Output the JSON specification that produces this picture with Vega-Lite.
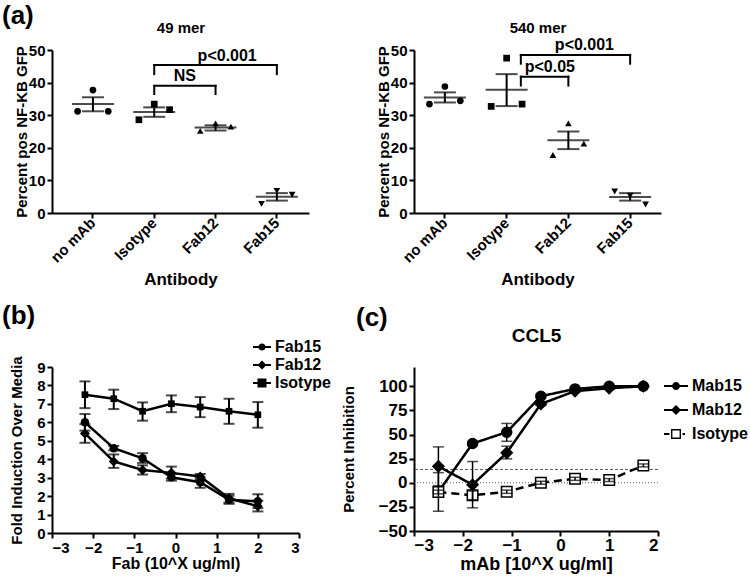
{
"$schema": "https://vega.github.io/schema/vega-lite/v6.json",
"padding": {"left": 2, "top": 3, "right": 2, "bottom": 2},
"config": {
  "font": "Liberation Sans",
  "view": {"stroke": null},
  "axis": {"domainColor": "black", "domainWidth": 2, "tickColor": "black", "tickWidth": 2, "tickSize": 5, "labelColor": "black", "labelFontWeight": "bold", "labelFontSize": 15, "labelPadding": 2, "labelOverlap": false, "titleColor": "black", "titleFontWeight": "bold", "titleFontSize": 15, "titlePadding": 2, "grid": false},
  "title": {"color": "black", "fontWeight": "bold", "frame": "group"},
  "legend": {"labelColor": "black", "labelFontWeight": "bold", "labelFontSize": 16, "padding": 0, "rowPadding": 0, "labelOffset": 3}
},
"datasets": {
  "a49": [
    {"antibody": "no mAb", "rep": 1, "value": 31.2}, {"antibody": "no mAb", "rep": 2, "value": 37.7}, {"antibody": "no mAb", "rep": 3, "value": 31.2},
    {"antibody": "Isotype", "rep": 1, "value": 28.6}, {"antibody": "Isotype", "rep": 2, "value": 33.4}, {"antibody": "Isotype", "rep": 3, "value": 31.7},
    {"antibody": "Fab12", "rep": 1, "value": 25.2}, {"antibody": "Fab12", "rep": 2, "value": 27.5}, {"antibody": "Fab12", "rep": 3, "value": 26.5},
    {"antibody": "Fab15", "rep": 1, "value": 2.8}, {"antibody": "Fab15", "rep": 2, "value": 6.8}, {"antibody": "Fab15", "rep": 3, "value": 5.6}
  ],
  "a49s": [
    {"antibody": "no mAb", "mean": 33.4, "lo": 31.2, "hi": 35.5},
    {"antibody": "Isotype", "mean": 31.0, "lo": 29.5, "hi": 32.4},
    {"antibody": "Fab12", "mean": 26.2, "lo": 25.3, "hi": 26.9},
    {"antibody": "Fab15", "mean": 5.0, "lo": 3.8, "hi": 6.1}
  ],
  "a540": [
    {"antibody": "no mAb", "rep": 1, "value": 33.4}, {"antibody": "no mAb", "rep": 2, "value": 38.8}, {"antibody": "no mAb", "rep": 3, "value": 34.4},
    {"antibody": "Isotype", "rep": 1, "value": 32.7}, {"antibody": "Isotype", "rep": 2, "value": 47.5}, {"antibody": "Isotype", "rep": 3, "value": 33.4},
    {"antibody": "Fab12", "rep": 1, "value": 17.8}, {"antibody": "Fab12", "rep": 2, "value": 27.5}, {"antibody": "Fab12", "rep": 3, "value": 21.3},
    {"antibody": "Fab15", "rep": 1, "value": 6.6}, {"antibody": "Fab15", "rep": 2, "value": 5.3}, {"antibody": "Fab15", "rep": 3, "value": 2.6}
  ],
  "a540s": [
    {"antibody": "no mAb", "mean": 35.4, "lo": 33.9, "hi": 37.0},
    {"antibody": "Isotype", "mean": 37.8, "lo": 32.8, "hi": 42.6},
    {"antibody": "Fab12", "mean": 22.3, "lo": 19.6, "hi": 25.0},
    {"antibody": "Fab15", "mean": 4.9, "lo": 3.8, "hi": 6.1}
  ],
  "fab": [
    {"series": "Isotype", "dose": -2.2, "mean": 7.5, "lo": 6.77, "hi": 8.22},
    {"series": "Isotype", "dose": -1.5, "mean": 7.28, "lo": 6.72, "hi": 7.77},
    {"series": "Isotype", "dose": -0.8, "mean": 6.6, "lo": 6.09, "hi": 7.08},
    {"series": "Isotype", "dose": -0.1, "mean": 7.01, "lo": 6.55, "hi": 7.46},
    {"series": "Isotype", "dose": 0.6, "mean": 6.83, "lo": 6.28, "hi": 7.37},
    {"series": "Isotype", "dose": 1.3, "mean": 6.6, "lo": 5.92, "hi": 7.28},
    {"series": "Isotype", "dose": 2.0, "mean": 6.41, "lo": 5.71, "hi": 7.1},
    {"series": "Fab15", "dose": -2.2, "mean": 6.0, "lo": 5.55, "hi": 6.45},
    {"series": "Fab15", "dose": -1.5, "mean": 4.6, "lo": 4.48, "hi": 4.72},
    {"series": "Fab15", "dose": -0.8, "mean": 4.05, "lo": 3.8, "hi": 4.33},
    {"series": "Fab15", "dose": -0.1, "mean": 3.02, "lo": 2.84, "hi": 3.2},
    {"series": "Fab15", "dose": 0.6, "mean": 2.75, "lo": 2.45, "hi": 3.0},
    {"series": "Fab15", "dose": 1.3, "mean": 1.8, "lo": 1.58, "hi": 2.02},
    {"series": "Fab15", "dose": 2.0, "mean": 1.72, "lo": 1.35, "hi": 2.1},
    {"series": "Fab12", "dose": -2.2, "mean": 5.4, "lo": 4.89, "hi": 5.9},
    {"series": "Fab12", "dose": -1.5, "mean": 3.88, "lo": 3.53, "hi": 4.26},
    {"series": "Fab12", "dose": -0.8, "mean": 3.42, "lo": 3.17, "hi": 3.67},
    {"series": "Fab12", "dose": -0.1, "mean": 3.26, "lo": 2.95, "hi": 3.6},
    {"series": "Fab12", "dose": 0.6, "mean": 3.06, "lo": 2.9, "hi": 3.2},
    {"series": "Fab12", "dose": 1.3, "mean": 1.88, "lo": 1.65, "hi": 2.12},
    {"series": "Fab12", "dose": 2.0, "mean": 1.45, "lo": 1.17, "hi": 1.75}
  ],
  "ccl5": [
    {"series": "Mab15", "dose": -2.5, "mean": -9.5, "lo": -29.5, "hi": 10.5},
    {"series": "Mab15", "dose": -1.8, "mean": 40.7, "lo": 39, "hi": 42.5},
    {"series": "Mab15", "dose": -1.1, "mean": 52.4, "lo": 43, "hi": 61.5},
    {"series": "Mab15", "dose": -0.4, "mean": 89.7, "lo": 88, "hi": 91.5},
    {"series": "Mab15", "dose": 0.3, "mean": 97.3, "lo": 96, "hi": 98.5},
    {"series": "Mab15", "dose": 1.0, "mean": 100, "lo": 99, "hi": 101},
    {"series": "Mab15", "dose": 1.7, "mean": 100, "lo": 99, "hi": 101},
    {"series": "Mab12", "dose": -2.5, "mean": 17, "lo": -3, "hi": 37.2},
    {"series": "Mab12", "dose": -1.8, "mean": -2, "lo": -26, "hi": 22},
    {"series": "Mab12", "dose": -1.1, "mean": 31, "lo": 24.8, "hi": 37.9},
    {"series": "Mab12", "dose": -0.4, "mean": 81.7, "lo": 80, "hi": 83.5},
    {"series": "Mab12", "dose": 0.3, "mean": 95, "lo": 94, "hi": 96},
    {"series": "Mab12", "dose": 1.0, "mean": 98, "lo": 97, "hi": 99},
    {"series": "Mab12", "dose": 1.7, "mean": 100, "lo": 99, "hi": 101},
    {"series": "Isotype", "dose": -2.5, "mean": -9.6, "lo": -11.5, "hi": -7.7},
    {"series": "Isotype", "dose": -1.8, "mean": -13, "lo": -17.5, "hi": -8.5},
    {"series": "Isotype", "dose": -1.1, "mean": -9.3, "lo": -11, "hi": -7.6},
    {"series": "Isotype", "dose": -0.4, "mean": 0, "lo": -1.5, "hi": 1.5},
    {"series": "Isotype", "dose": 0.3, "mean": 4.1, "lo": 2.5, "hi": 5.7},
    {"series": "Isotype", "dose": 1.0, "mean": 2.8, "lo": 1.3, "hi": 4.3},
    {"series": "Isotype", "dose": 1.7, "mean": 18, "lo": 16.5, "hi": 19.5}
  ]
},
"spacing": 15,
"resolve": {"scale": {"shape": "independent", "size": "independent", "fill": "independent", "strokeDash": "independent", "xOffset": "independent"}, "legend": {"shape": "independent", "fill": "independent"}},
"vconcat": [
  {
    "spacing": 67,
    "resolve": {"scale": {"shape": "independent", "size": "independent", "fill": "independent", "strokeDash": "independent", "xOffset": "independent"}, "legend": {"shape": "independent", "fill": "independent"}},
    "hconcat": [
      {
        "width": 257, "height": 163,
        "title": {"text": "(a)", "anchor": "start", "dx": -50, "fontSize": 26, "offset": -9},
        "resolve": {"axis": {"x": "independent"}},
        "layer": [
          {"data": {"name": "a49"},
           "mark": {"type": "point", "filled": true, "color": "black", "opacity": 1, "size": 45},
           "encoding": {
             "x": {"field": "antibody", "type": "nominal", "sort": null,
                   "scale": {"domain": ["no mAb", "Isotype", "Fab12", "Fab15"], "paddingInner": 0, "paddingOuter": 0.096, "align": 0.873},
                   "axis": {"title": "Antibody", "titleFontSize": 17, "labelAngle": -45, "labelAlign": "right", "labelBaseline": "middle", "titlePadding": 6}},
             "xOffset": {"field": "rep", "type": "nominal", "scale": {"paddingOuter": 3.6}},
             "y": {"field": "value", "type": "quantitative", "scale": {"domain": [0, 50]}, "axis": {"title": "Percent pos NF-KB GFP", "values": [0, 10, 20, 30, 40, 50], "titlePadding": -1}},
             "shape": {"field": "antibody", "type": "nominal", "scale": {"domain": ["no mAb", "Isotype", "Fab12", "Fab15"], "range": ["circle", "square", "triangle-up", "triangle-down"]}, "legend": null}
           }},
          {"data": {"name": "a49s"},
           "mark": {"type": "tick", "color": "black", "size": 42, "thickness": 2},
           "encoding": {
             "x": {"field": "antibody", "type": "nominal", "sort": null, "scale": {"domain": ["no mAb", "Isotype", "Fab12", "Fab15"]},
                   "axis": {"orient": "top", "title": "49 mer", "titleFontSize": 15, "labels": false, "ticks": false, "domain": false, "titlePadding": 15}},
             "y": {"field": "mean", "type": "quantitative", "scale": {"domain": [0, 50]}, "axis": {"title": "Percent pos NF-KB GFP", "values": [0, 10, 20, 30, 40, 50], "titlePadding": -1}}
           }},
          {"data": {"name": "a49s"},
           "mark": {"type": "errorbar", "color": "black", "thickness": 2, "ticks": {"size": 22, "color": "black"}},
           "encoding": {
             "x": {"field": "antibody", "type": "nominal", "sort": null, "scale": {"domain": ["no mAb", "Isotype", "Fab12", "Fab15"]}, "axis": null},
             "y": {"field": "lo", "type": "quantitative", "scale": {"domain": [0, 50]}, "axis": {"title": "Percent pos NF-KB GFP", "values": [0, 10, 20, 30, 40, 50], "titlePadding": -1}},
             "y2": {"field": "hi"}
           }},
          {"data": {"values": [{"from": "Isotype", "to": "Fab12", "top": 39.0, "foot": 36.5}, {"from": "Isotype", "to": "Fab15", "top": 45.4, "foot": 42.6}]},
           "layer": [
             {"mark": {"type": "rule", "color": "black", "strokeWidth": 2, "strokeCap": "square"},
              "encoding": {
                "x": {"field": "from", "type": "nominal", "bandPosition": 0.5, "scale": {"domain": ["no mAb", "Isotype", "Fab12", "Fab15"]}, "axis": null},
                "x2": {"field": "to", "bandPosition": 0.5},
                "y": {"field": "top", "type": "quantitative", "scale": {"domain": [0, 50]}, "axis": {"title": "Percent pos NF-KB GFP", "values": [0, 10, 20, 30, 40, 50], "titlePadding": -1}}
              }},
             {"mark": {"type": "rule", "color": "black", "strokeWidth": 2, "strokeCap": "square"},
              "encoding": {
                "x": {"field": "from", "type": "nominal", "scale": {"domain": ["no mAb", "Isotype", "Fab12", "Fab15"]}, "axis": null},
                "y": {"field": "top", "type": "quantitative", "scale": {"domain": [0, 50]}, "axis": {"title": "Percent pos NF-KB GFP", "values": [0, 10, 20, 30, 40, 50], "titlePadding": -1}},
                "y2": {"field": "foot"}
              }},
             {"mark": {"type": "rule", "color": "black", "strokeWidth": 2, "strokeCap": "square"},
              "encoding": {
                "x": {"field": "to", "type": "nominal", "scale": {"domain": ["no mAb", "Isotype", "Fab12", "Fab15"]}, "axis": null},
                "y": {"field": "top", "type": "quantitative", "scale": {"domain": [0, 50]}, "axis": {"title": "Percent pos NF-KB GFP", "values": [0, 10, 20, 30, 40, 50], "titlePadding": -1}},
                "y2": {"field": "foot"}
              }}
           ]},
          {"data": {"values": [{"label": "NS", "at": "Isotype", "ty": 40.5}]},
           "mark": {"type": "text", "fontSize": 16, "fontWeight": "bold", "color": "black", "baseline": "alphabetic"},
           "encoding": {
             "x": {"field": "at", "type": "nominal", "bandPosition": 1, "scale": {"domain": ["no mAb", "Isotype", "Fab12", "Fab15"]}, "axis": null},
             "y": {"field": "ty", "type": "quantitative", "scale": {"domain": [0, 50]}, "axis": {"title": "Percent pos NF-KB GFP", "values": [0, 10, 20, 30, 40, 50], "titlePadding": -1}},
             "text": {"field": "label"}
           }},
          {"data": {"values": [{"label": "p<0.001", "at": "Fab12", "ty": 46.7}]},
           "mark": {"type": "text", "fontSize": 16, "fontWeight": "bold", "color": "black", "baseline": "alphabetic"},
           "encoding": {
             "x": {"field": "at", "type": "nominal", "bandPosition": 0.69, "scale": {"domain": ["no mAb", "Isotype", "Fab12", "Fab15"]}, "axis": null},
             "y": {"field": "ty", "type": "quantitative", "scale": {"domain": [0, 50]}, "axis": {"title": "Percent pos NF-KB GFP", "values": [0, 10, 20, 30, 40, 50], "titlePadding": -1}},
             "text": {"field": "label"}
           }}
        ]
      },
      {
        "width": 247, "height": 163,
        "resolve": {"axis": {"x": "independent"}},
        "layer": [
          {"data": {"name": "a540"},
           "mark": {"type": "point", "filled": true, "color": "black", "opacity": 1, "size": 45},
           "encoding": {
             "x": {"field": "antibody", "type": "nominal", "sort": null,
                   "scale": {"domain": ["no mAb", "Isotype", "Fab12", "Fab15"], "paddingInner": 0, "paddingOuter": 0},
                   "axis": {"title": "Antibody", "titleFontSize": 17, "labelAngle": -45, "labelAlign": "right", "labelBaseline": "middle", "titlePadding": 6}},
             "xOffset": {"field": "rep", "type": "nominal", "scale": {"paddingOuter": 3.6}},
             "y": {"field": "value", "type": "quantitative", "scale": {"domain": [0, 50]}, "axis": {"title": "Percent pos NF-KB GFP", "values": [0, 10, 20, 30, 40, 50], "titlePadding": -1}},
             "shape": {"field": "antibody", "type": "nominal", "scale": {"domain": ["no mAb", "Isotype", "Fab12", "Fab15"], "range": ["circle", "square", "triangle-up", "triangle-down"]}, "legend": null}
           }},
          {"data": {"name": "a540s"},
           "mark": {"type": "tick", "color": "black", "size": 42, "thickness": 2},
           "encoding": {
             "x": {"field": "antibody", "type": "nominal", "sort": null, "scale": {"domain": ["no mAb", "Isotype", "Fab12", "Fab15"]},
                   "axis": {"orient": "top", "title": "540 mer", "titleFontSize": 15, "labels": false, "ticks": false, "domain": false, "titlePadding": 15}},
             "y": {"field": "mean", "type": "quantitative", "scale": {"domain": [0, 50]}, "axis": {"title": "Percent pos NF-KB GFP", "values": [0, 10, 20, 30, 40, 50], "titlePadding": -1}}
           }},
          {"data": {"name": "a540s"},
           "mark": {"type": "errorbar", "color": "black", "thickness": 2, "ticks": {"size": 22, "color": "black"}},
           "encoding": {
             "x": {"field": "antibody", "type": "nominal", "sort": null, "scale": {"domain": ["no mAb", "Isotype", "Fab12", "Fab15"]}, "axis": null},
             "y": {"field": "lo", "type": "quantitative", "scale": {"domain": [0, 50]}, "axis": {"title": "Percent pos NF-KB GFP", "values": [0, 10, 20, 30, 40, 50], "titlePadding": -1}},
             "y2": {"field": "hi"}
           }},
          {"data": {"values": [{"from": "Isotype", "to": "Fab12", "top": 41.8, "foot": 39.1}, {"from": "Isotype", "to": "Fab15", "top": 48.5, "foot": 45.8}]},
           "layer": [
             {"mark": {"type": "rule", "color": "black", "strokeWidth": 2, "strokeCap": "square"},
              "encoding": {
                "x": {"field": "from", "type": "nominal", "bandPosition": 0.73, "scale": {"domain": ["no mAb", "Isotype", "Fab12", "Fab15"]}, "axis": null},
                "x2": {"field": "to", "bandPosition": 0.5},
                "y": {"field": "top", "type": "quantitative", "scale": {"domain": [0, 50]}, "axis": {"title": "Percent pos NF-KB GFP", "values": [0, 10, 20, 30, 40, 50], "titlePadding": -1}}
              }},
             {"mark": {"type": "rule", "color": "black", "strokeWidth": 2, "strokeCap": "square"},
              "encoding": {
                "x": {"field": "from", "type": "nominal", "bandPosition": 0.73, "scale": {"domain": ["no mAb", "Isotype", "Fab12", "Fab15"]}, "axis": null},
                "y": {"field": "top", "type": "quantitative", "scale": {"domain": [0, 50]}, "axis": {"title": "Percent pos NF-KB GFP", "values": [0, 10, 20, 30, 40, 50], "titlePadding": -1}},
                "y2": {"field": "foot"}
              }},
             {"mark": {"type": "rule", "color": "black", "strokeWidth": 2, "strokeCap": "square"},
              "encoding": {
                "x": {"field": "to", "type": "nominal", "scale": {"domain": ["no mAb", "Isotype", "Fab12", "Fab15"]}, "axis": null},
                "y": {"field": "top", "type": "quantitative", "scale": {"domain": [0, 50]}, "axis": {"title": "Percent pos NF-KB GFP", "values": [0, 10, 20, 30, 40, 50], "titlePadding": -1}},
                "y2": {"field": "foot"}
              }}
           ]},
          {"data": {"values": [{"label": "p<0.05", "at": "Fab12", "ty": 43.1}]},
           "mark": {"type": "text", "fontSize": 16, "fontWeight": "bold", "color": "black", "baseline": "alphabetic"},
           "encoding": {
             "x": {"field": "at", "type": "nominal", "bandPosition": 0.2, "scale": {"domain": ["no mAb", "Isotype", "Fab12", "Fab15"]}, "axis": null},
             "y": {"field": "ty", "type": "quantitative", "scale": {"domain": [0, 50]}, "axis": {"title": "Percent pos NF-KB GFP", "values": [0, 10, 20, 30, 40, 50], "titlePadding": -1}},
             "text": {"field": "label"}
           }},
          {"data": {"values": [{"label": "p<0.001", "at": "Fab12", "ty": 50.0}]},
           "mark": {"type": "text", "fontSize": 16, "fontWeight": "bold", "color": "black", "baseline": "alphabetic"},
           "encoding": {
             "x": {"field": "at", "type": "nominal", "bandPosition": 0.76, "scale": {"domain": ["no mAb", "Isotype", "Fab12", "Fab15"]}, "axis": null},
             "y": {"field": "ty", "type": "quantitative", "scale": {"domain": [0, 50]}, "axis": {"title": "Percent pos NF-KB GFP", "values": [0, 10, 20, 30, 40, 50], "titlePadding": -1}},
             "text": {"field": "label"}
           }}
        ]
      }
    ]
  },
  {
    "spacing": 9,
    "resolve": {"scale": {"shape": "independent", "size": "independent", "fill": "independent", "strokeDash": "independent", "xOffset": "independent"}, "legend": {"shape": "independent", "fill": "independent"}},
    "hconcat": [
      {
        "width": 247, "height": 166,
        "title": {"text": "(b)", "anchor": "start", "dx": -50, "fontSize": 26, "offset": 9},
        "data": {"name": "fab"},
        "resolve": {"scale": {"shape": "independent", "size": "independent", "fill": "independent"}},
        "layer": [
          {"mark": {"type": "line", "color": "black", "strokeWidth": 2.5},
           "encoding": {
             "x": {"field": "dose", "type": "quantitative", "scale": {"domain": [-3, 3]}, "axis": {"title": "Fab  (10^X ug/ml)", "titleFontSize": 16, "values": [-3, -2, -1, 0, 1, 2, 3], "titlePadding": 0}},
             "y": {"field": "mean", "type": "quantitative", "scale": {"domain": [0, 9]}, "axis": {"title": "Fold  Induction Over Media", "values": [0, 1, 2, 3, 4, 5, 6, 7, 8, 9], "titlePadding": 12}},
             "detail": {"field": "series", "type": "nominal"}
           }},
          {"mark": {"type": "errorbar", "color": "black", "thickness": 2, "ticks": {"size": 11, "color": "black"}},
           "encoding": {
             "x": {"field": "dose", "type": "quantitative", "scale": {"domain": [-3, 3]}, "axis": {"title": "Fab  (10^X ug/ml)", "titleFontSize": 16, "values": [-3, -2, -1, 0, 1, 2, 3], "titlePadding": 0}},
             "y": {"field": "lo", "type": "quantitative", "scale": {"domain": [0, 9]}, "axis": {"title": "Fold  Induction Over Media", "values": [0, 1, 2, 3, 4, 5, 6, 7, 8, 9], "titlePadding": 12}},
             "y2": {"field": "hi"}
           }},
          {"mark": {"type": "point", "filled": true, "color": "black", "opacity": 1},
           "encoding": {
             "x": {"field": "dose", "type": "quantitative", "scale": {"domain": [-3, 3]}, "axis": {"title": "Fab  (10^X ug/ml)", "titleFontSize": 16, "values": [-3, -2, -1, 0, 1, 2, 3], "titlePadding": 0}},
             "y": {"field": "mean", "type": "quantitative", "scale": {"domain": [0, 9]}, "axis": {"title": "Fold  Induction Over Media", "values": [0, 1, 2, 3, 4, 5, 6, 7, 8, 9], "titlePadding": 12}},
             "size": {"field": "series", "type": "nominal", "scale": {"domain": ["Fab12", "Fab15", "Isotype"], "range": [100, 45, 90]}, "legend": null},
             "shape": {"field": "series", "type": "nominal", "scale": {"domain": ["Isotype", "Fab15", "Fab12"], "range": ["square", "circle", "diamond"]}, "legend": null}
           }},
          {"transform": [{"filter": "false"}],
           "mark": {"type": "point", "filled": true, "color": "black", "opacity": 1},
           "encoding": {
             "shape": {"field": "series", "type": "nominal",
                       "scale": {"domain": ["Fab15", "Fab12", "Isotype"], "range": ["M-1,-0.12H1V0.12H-1ZM0.4,0A0.4,0.4,0,1,1,-0.4,0A0.4,0.4,0,1,1,0.4,0Z", "M-1,-0.12H1V0.12H-1ZM0,-0.5L0.5,0L0,0.5L-0.5,0Z", "M-1,-0.12H1V0.12H-1ZM-0.5,-0.5H0.5V0.5H-0.5Z"]},
                       "legend": {"orient": "none", "legendX": 200, "legendY": -29, "title": null, "symbolSize": 324, "clipHeight": 18, "symbolFillColor": "black", "symbolOpacity": 1}}
           }}
        ]
      },
      {
        "width": 244, "height": 164,
        "title": {"text": "(c)", "anchor": "start", "dx": -58, "fontSize": 26, "offset": -5},
        "resolve": {"axis": {"x": "independent"}, "scale": {"shape": "independent", "size": "independent", "fill": "independent", "strokeDash": "independent"}},
        "layer": [
          {"data": {"values": [{"ref": 0}]},
           "mark": {"type": "rule", "color": "#555555", "strokeWidth": 1, "strokeDash": [1, 2]},
           "encoding": {"y": {"field": "ref", "type": "quantitative", "scale": {"domain": [-50, 120]}, "axis": {"title": "Percent Inhibition", "labelFontSize": 17, "values": [-50, -25, 0, 25, 50, 75, 100], "titlePadding": 22}}}},
          {"data": {"values": [{"ref": 13.8}]},
           "mark": {"type": "rule", "color": "#555555", "strokeWidth": 1, "strokeDash": [3, 2]},
           "encoding": {"y": {"field": "ref", "type": "quantitative", "scale": {"domain": [-50, 120]}, "axis": {"title": "Percent Inhibition", "labelFontSize": 17, "values": [-50, -25, 0, 25, 50, 75, 100], "titlePadding": 22}}}},
          {"data": {"name": "ccl5"},
           "mark": {"type": "line", "color": "black", "strokeWidth": 2.5},
           "encoding": {
             "x": {"field": "dose", "type": "quantitative", "scale": {"domain": [-3, 2]}, "axis": {"title": "mAb [10^X ug/ml]", "titleFontSize": 18, "labelFontSize": 17, "labelPadding": 1, "values": [-3, -2, -1, 0, 1, 2], "titlePadding": 2}},
             "y": {"field": "mean", "type": "quantitative", "scale": {"domain": [-50, 120]}, "axis": {"title": "Percent Inhibition", "labelFontSize": 17, "values": [-50, -25, 0, 25, 50, 75, 100], "titlePadding": 22}},
             "detail": {"field": "series", "type": "nominal"},
             "strokeDash": {"field": "series", "type": "nominal", "scale": {"domain": ["Isotype", "Mab12", "Mab15"], "range": [[8, 5], [1, 0], [1, 0]]}, "legend": null}
           }},
          {"data": {"name": "ccl5"},
           "mark": {"type": "point", "filled": true, "opacity": 1, "stroke": "black", "strokeWidth": 1.5},
           "encoding": {
             "x": {"field": "dose", "type": "quantitative", "scale": {"domain": [-3, 2]}, "axis": {"orient": "top", "title": "CCL5", "titleFontSize": 19, "labels": false, "ticks": false, "domain": false, "titlePadding": 22}},
             "y": {"field": "mean", "type": "quantitative", "scale": {"domain": [-50, 120]}, "axis": {"title": "Percent Inhibition", "labelFontSize": 17, "values": [-50, -25, 0, 25, 50, 75, 100], "titlePadding": 22}},
             "size": {"field": "series", "type": "nominal", "scale": {"domain": ["Mab12", "Isotype", "Mab15"], "range": [121, 100, 64]}, "legend": null},
             "shape": {"field": "series", "type": "nominal", "scale": {"domain": ["Isotype", "Mab15", "Mab12"], "range": ["square", "circle", "diamond"]}, "legend": null},
             "fill": {"field": "series", "type": "nominal", "scale": {"domain": ["Mab12", "Mab15", "Isotype"], "range": ["black", "black", "white"]}, "legend": null}
           }},
          {"data": {"name": "ccl5"},
           "mark": {"type": "errorbar", "color": "black", "thickness": 1.5, "ticks": {"size": 11, "color": "black"}},
           "encoding": {
             "x": {"field": "dose", "type": "quantitative", "scale": {"domain": [-3, 2]}, "axis": null},
             "y": {"field": "lo", "type": "quantitative", "scale": {"domain": [-50, 120]}, "axis": {"title": "Percent Inhibition", "labelFontSize": 17, "values": [-50, -25, 0, 25, 50, 75, 100], "titlePadding": 22}},
             "y2": {"field": "hi"}
           }},
          {"data": {"name": "ccl5"},
           "transform": [{"filter": "false"}],
           "mark": {"type": "point", "filled": true, "color": "black", "opacity": 1},
           "encoding": {
             "shape": {"field": "series", "type": "nominal",
                       "scale": {"domain": ["Mab15", "Mab12", "Isotype"], "range": ["M-1,-0.09H1V0.09H-1ZM0.33,0A0.33,0.33,0,1,1,-0.33,0A0.33,0.33,0,1,1,0.33,0Z", "M-1,-0.09H1V0.09H-1ZM0,-0.42L0.42,0L0,0.42L-0.42,0Z", "M-1,-0.09H-0.55V0.09H-1ZM0.55,-0.09H0.75V0.09H0.55ZM-0.42,-0.42H0.42V0.42H-0.42ZM-0.3,-0.3V0.3H0.3V-0.3Z"]},
                       "legend": {"orient": "none", "legendX": 249, "legendY": 7, "title": null, "symbolSize": 576, "clipHeight": 24, "symbolFillColor": "black", "symbolOpacity": 1}}
           }}
        ]
      }
    ]
  }
]
}
